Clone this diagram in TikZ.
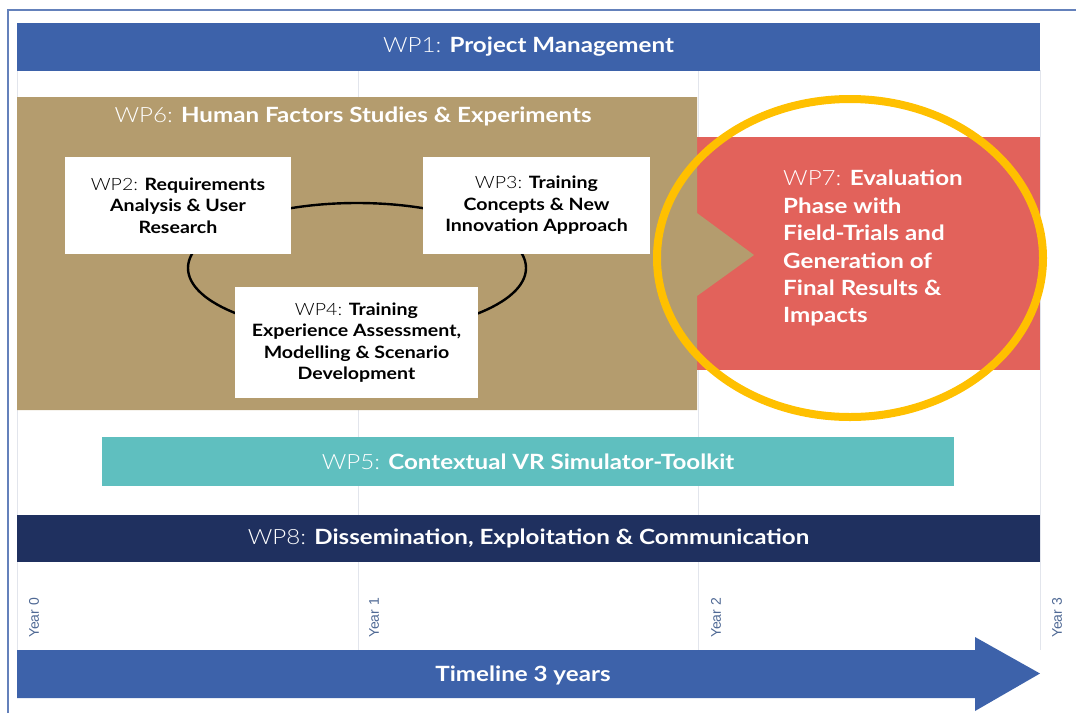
\documentclass[tikz,border=0pt]{standalone}
\usepackage{fontspec}
\setmainfont{Lato}[FakeStretch=1.15]
\newfontfamily\lightfont{Lato Light}[FakeStretch=1.15]
\newfontfamily\yearfont{Liberation Sans}
\usetikzlibrary{positioning}
\definecolor{wpblue}{RGB}{61,98,170}
\definecolor{wptan}{RGB}{180,156,110}
\definecolor{wpred}{RGB}{226,98,91}
\definecolor{wpteal}{RGB}{95,191,191}
\definecolor{wpnavy}{RGB}{31,48,95}
\definecolor{wpgold}{RGB}{255,192,0}
\definecolor{wpgrid}{RGB}{226,229,236}
\definecolor{yeartext}{RGB}{78,104,148}
\newcommand{\wpname}[1]{{\lightfont #1:} }

\begin{document}
\begin{tikzpicture}
			[x=1pt,y=-1pt,
			bar/.style={fill=#1,text=white,inner sep=0pt,font=\fontsize{21}{25}\selectfont},
			wpbox/.style={fill=white,align=center,inner sep=0pt,font=\fontsize{17}{21.5}\selectfont},
			year/.style={rotate=90,text=yeartext,font=\yearfont\fontsize{14}{16}\selectfont}]
			\useasboundingbox (0,0) rectangle (1076,713);
			\draw[wpblue!80,line width=1.2pt] (8,713) -- (8,10) -- (1076,10);
			\foreach \x in {17,358,698,1040}
				\draw[wpgrid,line width=1pt] (\x,70) -- (\x,650);
			\node[bar=wpblue,minimum width=1023pt,minimum height=48pt] (wp1) at (528.5,47) {\wpname{WP1}\textbf{Project Management}};
			\fill[wpred] (697,137) rectangle (1040,370);
			\fill[wptan] (17,97) -- (697,97) -- (697,213) -- (754,255) -- (697,296) -- (697,410) -- (17,410) -- cycle;
			\node[text=white,font=\fontsize{21}{25}\selectfont] (wp6) at (353,116) {\wpname{WP6}\textbf{Human Factors Studies \& Experiments}};
			\draw[line width=2.4pt] (357,268) ellipse [x radius=169, y radius=65];
			\node[wpbox,minimum width=226pt,minimum height=97pt] (wp2) at (178,205.5) {\wpname{WP2}\textbf{Requirements}\\ \textbf{Analysis \& User}\\ \textbf{Research}};
			\node[wpbox,minimum width=227pt,minimum height=97pt] (wp3) at (536.5,205.5) {\wpname{WP3}\textbf{Training}\\ \textbf{Concepts \& New}\\ \textbf{Innovation Approach}};
			\node[wpbox,minimum width=243pt,minimum height=111pt] (wp4) at (356.5,342.5) {\wpname{WP4}\textbf{Training}\\ \textbf{Experience Assessment,}\\ \textbf{Modelling \& Scenario}\\ \textbf{Development}};
			\node[anchor=north west,text=white,align=left,inner sep=0pt,font=\fontsize{21}{27.4}\selectfont] (wp7) at (783,170) {\wpname{WP7}\textbf{Evaluation}\\ \textbf{Phase with}\\ \textbf{Field-Trials and}\\ \textbf{Generation of}\\ \textbf{Final Results \&}\\ \textbf{Impacts}};
			\draw[wpgold,line width=8pt] (850,258) ellipse [x radius=193, y radius=159];
			\node[bar=wpteal,minimum width=852pt,minimum height=49pt] (wp5) at (528,461.5) {\wpname{WP5}\textbf{Contextual VR Simulator-Toolkit}};
			\node[bar=wpnavy,minimum width=1023pt,minimum height=47pt] (wp8) at (528.5,538) {\wpname{WP8}\textbf{Dissemination, Exploitation \& Communication}};
			\node[year] (y0) at (34,618) {Year 0};
			\node[year] (y1) at (374,618) {Year 1};
			\node[year] (y2) at (716,618) {Year 2};
			\node[year] (y3) at (1057,618) {Year 3};
			\fill[wpblue] (17,650) -- (975,650) -- (975,637) -- (1040,673.5) -- (975,711) -- (975,698) -- (17,698) -- cycle;
			\node[text=white,font=\bfseries\fontsize{21}{25}\selectfont] (timeline) at (523,675) {Timeline 3 years};
\end{tikzpicture}
\end{document}
